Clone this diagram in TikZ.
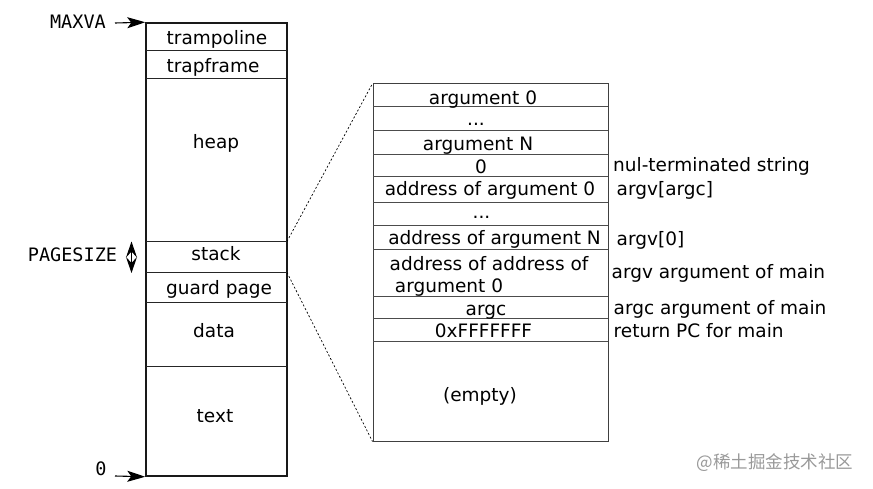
\documentclass[tikz,border=0pt]{standalone}
\usepackage{fontspec}
\setmainfont{DejaVu Sans}
\setmonofont{DejaVu Sans Mono}
\newfontfamily\cjk{Noto Sans CJK SC}
\usetikzlibrary{arrows.meta}
\begin{document}
\begin{tikzpicture}[x=1pt,y=-1pt,
  lbl/.style={font=\fontsize{18.5}{22}\selectfont, inner sep=0pt, text height=14pt, text depth=4.5pt, yshift=-2.5pt},
  monolbl/.style={font=\fontsize{18.5}{22}\selectfont\ttfamily, inner sep=0pt},
  frame/.style={draw=black!90, line width=1.5pt},
  sepline/.style={draw=black!85, line width=1pt},
  rsep/.style={draw=black!70, line width=1pt},
  arr/.style={-{Stealth[length=18pt,width=11pt,inset=4pt]}, line width=1.1pt},
  dblarr/.style={{Stealth[length=16pt,width=11pt,inset=6pt]}-{Stealth[length=16pt,width=11pt,inset=6pt]}, line width=1pt},
  dotted line/.style={densely dashed, dash pattern=on 2pt off 2pt, line width=0.7pt}
]
\useasboundingbox (0,0) rectangle (873,489);

% left memory column
\node[frame, rectangle, minimum width=141pt, minimum height=453pt, inner sep=0pt] (mem) at (216.5,249.5) {};
\foreach \yy in {51,79,241.5,272.5,302.5,366}
  \draw[sepline] (146,\yy) -- (287,\yy);

\node[lbl] (tramp) at (217,37) {trampoline};
\node[lbl] (trapf) at (213,65) {trapframe};
\node[lbl] (heap) at (216,141) {heap};
\node[lbl] (stack) at (216,253) {stack};
\node[lbl] (guard) at (219,287) {guard page};
\node[lbl] (data) at (214,330) {data};
\node[lbl] (text) at (215,415) {text};

% left labels and arrows
\node[monolbl, anchor=east] (maxva) at (106,22) {MAXVA};
\coordinate (maxvastart) at (115,23);
\draw[arr] (maxvastart) -- (mem.north west);

\node[monolbl] (zero) at (101,469) {0};
\coordinate (zerostart) at (115,476);
\draw[arr] (zerostart) -- (mem.south west);

\node[monolbl] (pagesize) at (72.5,255) {PAGESIZE};
\coordinate (ps1) at (131.5,241.5);
\coordinate (ps2) at (131.5,273);
\draw[dblarr] (ps1) -- (ps2);

% right stack detail
\node[draw=black!75, line width=1pt, rectangle, minimum width=235pt, minimum height=357pt, inner sep=0pt] (stk) at (490.5,262.5) {};
\foreach \yy in {106.5,131,155,176.5,203,226,250,296,318.5,341}
  \draw[rsep] (373,\yy) -- (608,\yy);

\node[lbl] (a0) at (483,97) {argument 0};
\node[lbl] (d1) at (476,118) {...};
\node[lbl] (an) at (478,143) {argument N};
\node[lbl] (nul) at (481,166) {0};
\node[lbl] (ad0) at (490,188) {address of argument 0};
\node[lbl] (d2) at (481.5,211) {...};
\node[lbl] (adn) at (494.5,237.5) {address of argument N};
\node[lbl] (aa1) at (489,263) {address of address of};
\node[lbl] (aa2) at (449,285) {argument 0};
\node[lbl] (argc) at (486,308) {argc};
\node[lbl] (ret) at (483.5,330.5) {0xFFFFFFF};
\node[lbl] (empty) at (480,394) {(empty)};

% annotations
\node[lbl, anchor=west] (n1) at (613,164) {nul-terminated string};
\node[lbl, anchor=west] (n2) at (616.5,188) {argv[argc]};
\node[lbl, anchor=west] (n3) at (616.5,238) {argv[0]};
\node[lbl, anchor=west] (n4) at (611.5,271) {argv argument of main};
\node[lbl, anchor=west] (n5) at (613.5,307) {argc argument of main};
\node[lbl, anchor=west] (n6) at (613.5,330) {return PC for main};

% zoom lines
\coordinate (stacktop) at (287,241.5);
\coordinate (stackbot) at (287,272.5);
\draw[dotted line] (stacktop) -- (stk.north west);
\draw[dotted line] (stackbot) -- (stk.south west);

% watermark
\node[font=\cjk\fontsize{17.5}{20}\selectfont, text=black!40, inner sep=0pt] (wm) at (775,463) {@稀土掘金技术社区};
\end{tikzpicture}
\end{document}
